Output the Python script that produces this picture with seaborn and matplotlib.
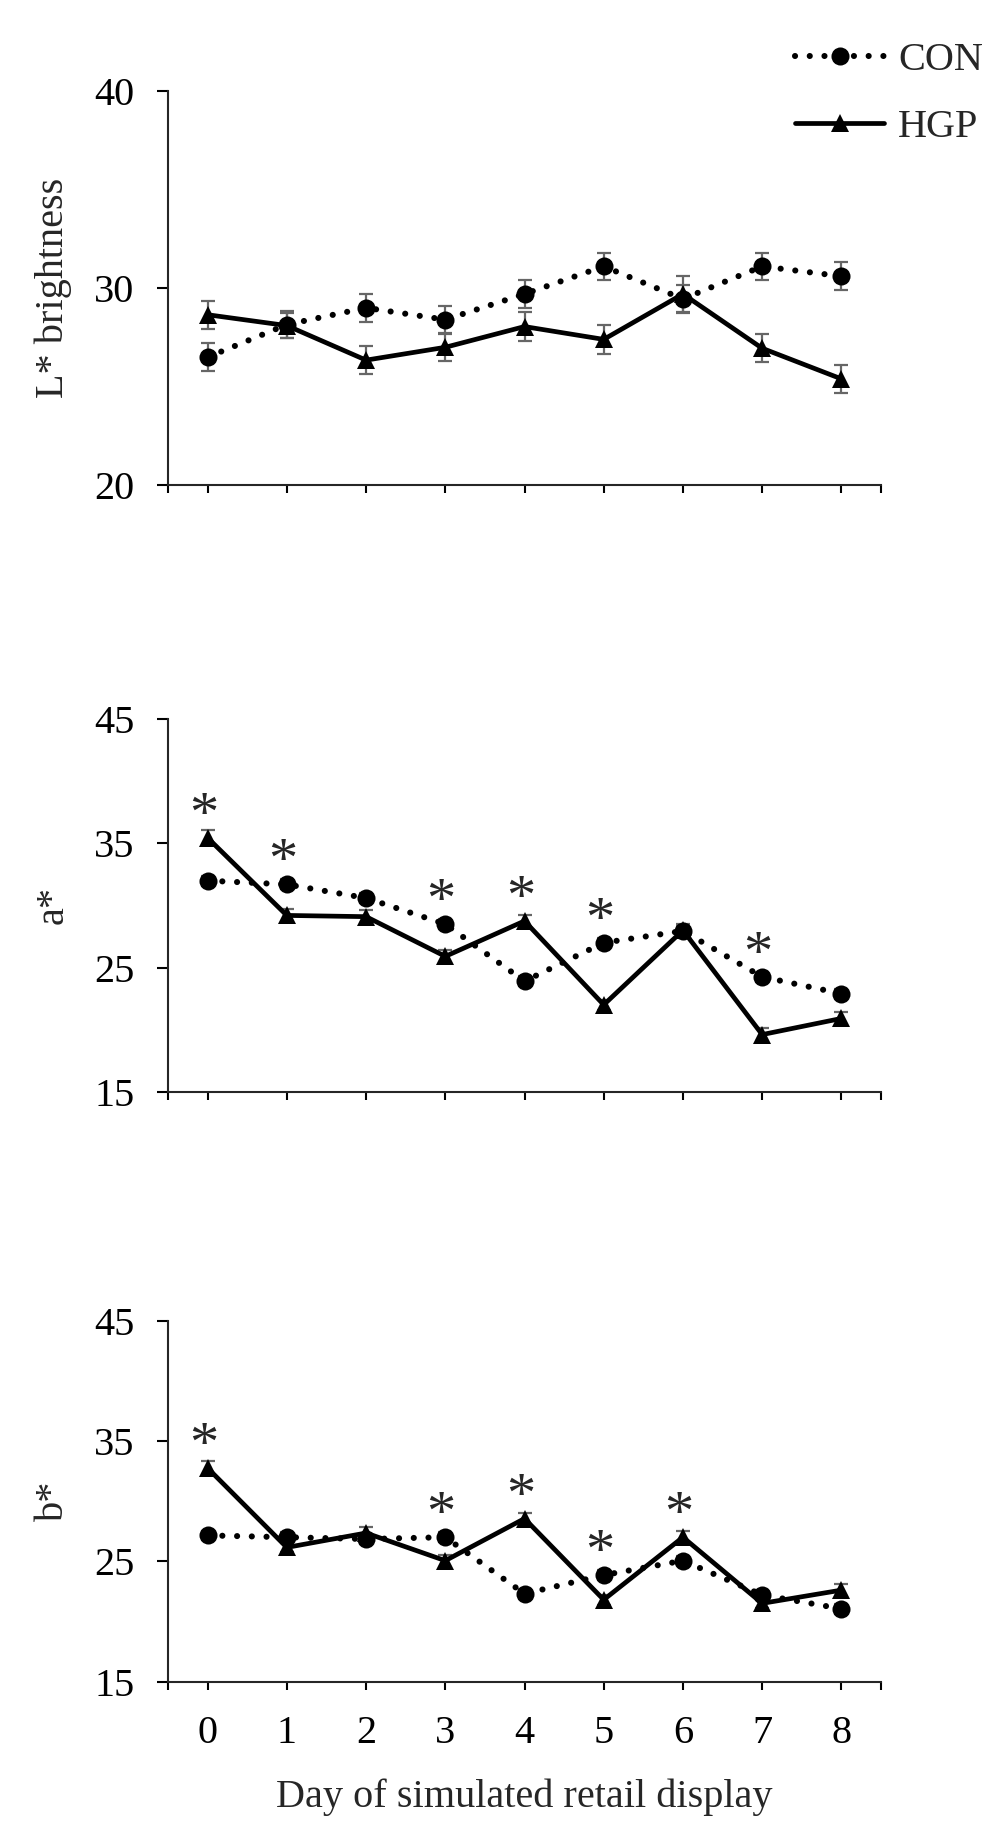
import numpy as np
import pandas as pd
import matplotlib
matplotlib.use("Agg")
import matplotlib.pyplot as plt
import seaborn as sns

# ---------------- data ----------------
days = [0, 1, 2, 3, 4, 5, 6, 7, 8]
day_labels = ["0", "1", "2", "3", "4", "5", "6", "7", "8"]

L_con = [26.5, 28.15, 29.0, 28.4, 29.7, 31.1, 29.45, 31.1, 30.6]
L_hgp = [28.65, 28.1, 26.35, 27.0, 28.05, 27.4, 29.7, 26.95, 25.4]
L_con_se = [0.7, 0.7, 0.7, 0.7, 0.7, 0.7, 0.7, 0.7, 0.7]
L_hgp_se = [0.7, 0.65, 0.7, 0.68, 0.72, 0.72, 0.9, 0.7, 0.7]

a_con = [32.0, 31.7, 30.6, 28.5, 23.9, 27.0, 27.95, 24.25, 22.9]
a_hgp = [35.45, 29.2, 29.1, 25.9, 28.75, 22.0, 28.0, 19.6, 20.9]
a_con_se = [0.4, 0.4, 0.4, 0.4, 0.4, 0.4, 0.4, 0.4, 0.4]
a_hgp_se = [0.6, 0.5, 0.5, 0.5, 0.5, 0.4, 0.5, 0.5, 0.5]
a_sig_days = [0, 1, 3, 4, 5, 7]

b_con = [27.15, 27.0, 26.85, 27.0, 22.3, 23.85, 25.05, 22.2, 21.05]
b_hgp = [32.75, 26.15, 27.35, 25.05, 28.55, 21.8, 27.0, 21.5, 22.6]
b_con_se = [0.4, 0.4, 0.4, 0.4, 0.4, 0.4, 0.4, 0.4, 0.4]
b_hgp_se = [0.55, 0.4, 0.5, 0.5, 0.5, 0.4, 0.5, 0.4, 0.5]
b_sig_days = [0, 3, 4, 5, 6]

groups = ["CON", "HGP"]
y_labels = ["L* brightness", "a*", "b*"]
x_label = "Day of simulated retail display"
y_limits = [(20, 40), (15, 45), (15, 45)]
y_ticks = [[20, 30, 40], [15, 25, 35, 45], [15, 25, 35, 45]]

# ---------------- style ----------------
sns.set_style("ticks")
plt.rcParams["font.family"] = ["Liberation Serif", "DejaVu Serif"]
plt.rcParams["axes.linewidth"] = 1.5

FS = 29
fig = plt.figure(figsize=(10, 18.21), dpi=100)
left, width = 0.168, 0.713
positions = [
    (left, 0.7334, width, 0.2168),
    (left, 0.4005, width, 0.2045),
    (left, 0.0766, width, 0.1981),
]

panels = [
    (L_con, L_hgp, L_con_se, L_hgp_se, []),
    (a_con, a_hgp, a_con_se, a_hgp_se, a_sig_days),
    (b_con, b_hgp, b_con_se, b_hgp_se, b_sig_days),
]

err_color = "#666666"
handles = None
for i, (con, hgp, con_se, hgp_se, sig) in enumerate(panels):
    ax = fig.add_axes(positions[i])
    df = pd.DataFrame({
        "day": days * 2,
        "value": con + hgp,
        "group": ["CON"] * len(days) + ["HGP"] * len(days),
    })
    # error bars (behind)
    ax.errorbar(days, con, yerr=con_se, fmt="none", ecolor=err_color,
                elinewidth=1.6, capsize=5, capthick=1.6, zorder=1)
    ax.errorbar(days, hgp, yerr=hgp_se, fmt="none", ecolor=err_color,
                elinewidth=1.6, capsize=5, capthick=1.6, zorder=1)
    sns.lineplot(data=df[df.group == "CON"], x="day", y="value", ax=ax,
                 color="black", linewidth=4.4, linestyle=(0, (0.01, 2.4)),
                 dash_capstyle="round", marker="o", markersize=13,
                 markeredgewidth=0, errorbar=None, label="CON", zorder=3)
    sns.lineplot(data=df[df.group == "HGP"], x="day", y="value", ax=ax,
                 color="black", linewidth=3.4, linestyle="-",
                 marker="^", markersize=13, markeredgewidth=0,
                 errorbar=None, label="HGP", zorder=3)
    if ax.get_legend() is not None:
        ax.get_legend().remove()
    if i == 0:
        handles = [l for l in ax.get_lines() if l.get_label() in groups]

    # significance stars
    for d in sig:
        top = max(con[d], hgp[d])
        ax.annotate("*", xy=(d, top), xytext=(-4, 7), textcoords="offset pixels",
                    ha="center", va="baseline", fontsize=42)

    ax.set_xlim(-0.5, 8.5)
    ax.set_ylim(*y_limits[i])
    ax.set_yticks(y_ticks[i])
    ax.set_xticks(days)
    ax.set_xticks([-0.5, 8.5], minor=True)
    ax.yaxis.set_minor_locator(matplotlib.ticker.NullLocator())
    sns.despine(ax=ax)
    ax.tick_params(axis="y", which="major", direction="out", length=8, width=1.5,
                   labelsize=FS, pad=16, colors="black")
    ax.tick_params(axis="x", which="both", direction="out", length=6, width=1.5,
                   labelsize=FS, pad=18, colors="black")
    if i == 2:
        ax.set_xticklabels(day_labels)
        ax.set_xlabel(x_label, fontsize=FS, labelpad=19)
    else:
        ax.set_xticklabels([])
        ax.set_xlabel("")
    ax.set_ylabel(y_labels[i], fontsize=FS)
    ax.yaxis.set_label_coords(-0.135, 0.5)

fig.legend(handles, groups, loc="upper right", bbox_to_anchor=(0.983, 0.977),
           frameon=False, fontsize=FS, handlelength=2.2, handletextpad=0.35,
           labelspacing=0.75, borderaxespad=0, borderpad=0)

fig.savefig("out.png", dpi=100)
